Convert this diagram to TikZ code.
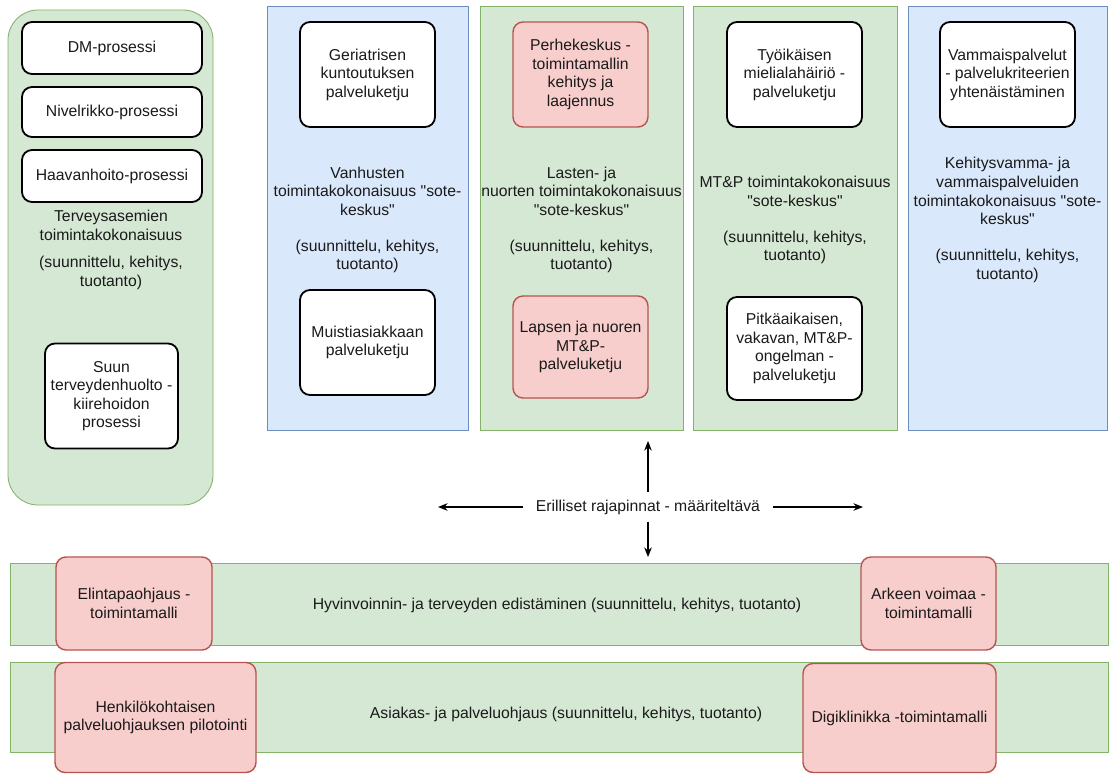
\documentclass[tikz,border=0pt]{standalone}
\usepackage{fontspec}
\setmainfont{Liberation Sans}[Ligatures=TeXOff]
\usetikzlibrary{arrows.meta,positioning}

\definecolor{grnFill}{HTML}{D5E8D4}
\definecolor{grnLine}{HTML}{82B366}
\definecolor{bluFill}{HTML}{DAE8FC}
\definecolor{bluLine}{HTML}{6C8EBF}
\definecolor{redFill}{HTML}{F8CECC}
\definecolor{redLine}{HTML}{B85450}
\definecolor{txt}{HTML}{1A1A1A}

\begin{document}
\begin{tikzpicture}[>={Stealth[length=2.4mm,width=1.9mm]}, x=0.025cm, y=-0.025cm,
    every node/.style={font=\fontsize{11.2}{13.2}\selectfont, text=txt}]
  % --- Unified styles (sizes given in pixels of the layout grid) ---
    \tikzset{
      sz/.style 2 args = {minimum width=#1*0.025cm, minimum height=#2*0.025cm},
      panelG/.style    = {draw=grnLine,fill=grnFill,line width=.6pt,inner sep=0pt},
      panelB/.style    = {draw=bluLine,fill=bluFill,line width=.6pt,inner sep=0pt},
      wbox/.style      = {draw=black,fill=white,line width=1.3pt,rounded corners=2.5mm,align=center,inner sep=1pt},
      rbox/.style      = {draw=redLine,fill=redFill,line width=1pt,rounded corners=2.5mm,align=center,inner sep=1pt},
      lab/.style       = {align=center, inner sep=1pt},
      arr/.style       = {->,line width=.8pt}
    }
    \useasboundingbox (0,0) rectangle (1109,774);

    % --- Terveysasemat (rounded green column) ---
    \node[panelG,sz={205}{495},rounded corners=7.5mm] (terveys) at (110.5,257.5) {};
    \node[wbox,sz={180}{52}] (dm)    at (112,48)  {DM-prosessi};
    \node[wbox,sz={180}{50}] (nivel) at (112,112) {Nivelrikko-prosessi};
    \node[wbox,sz={180}{52}] (haava) at (112,176) {Haavanhoito-prosessi};
    \node[lab] (terveysTxt) at (111,250)
      {Terveysasemien\\toimintakokonaisuus\\[6.5pt](suunnittelu, kehitys,\\tuotanto)};
    \node[wbox,sz={133}{105}] (suun) at (111.5,396)
      {Suun\\terveydenhuolto -\\kiirehoidon\\prosessi};

    % --- Vanhusten sote-keskus ---
    \node[panelB,sz={201}{424}] (vanhus) at (367.5,218) {};
    \node[wbox,sz={135}{105}] (geria) at (367.5,74.5)
      {Geriatrisen\\kuntoutuksen\\palveluketju};
    \node[lab] (vanhusTxt) at (367.5,220)
      {Vanhusten\\toimintakokonaisuus "sote-\\keskus"\\[12.4pt](suunnittelu, kehitys,\\tuotanto)};
    \node[wbox,sz={135}{105}] (muisti) at (367.5,342.5)
      {Muistiasiakkaan\\palveluketju};

    % --- Lasten ja nuorten sote-keskus ---
    \node[panelG,sz={203}{424}] (lapset) at (581.5,218) {};
    \node[rbox,sz={135}{105}] (perhe) at (580.5,74.5)
      {Perhekeskus -\\toimintamallin\\kehitys ja\\laajennus};
    \node[lab] (lapsetTxt) at (581.5,220)
      {Lasten- ja\\nuorten toimintakokonaisuus\\"sote-keskus"\\[12.4pt](suunnittelu, kehitys,\\tuotanto)};
    \node[rbox,sz={135}{102}] (lapsen) at (580.5,347)
      {Lapsen ja nuoren\\MT\&P-\\palveluketju};

    % --- MT&P sote-keskus ---
    \node[panelG,sz={204}{424}] (mtp) at (795,218) {};
    \node[wbox,sz={135}{105}] (tyo) at (794.5,74.5)
      {Työikäisen\\mielialahäiriö -\\palveluketju};
    \node[lab] (mtpTxt) at (795,220)
      {MT\&P toimintakokonaisuus\\"sote-keskus"\\[12.4pt](suunnittelu, kehitys,\\tuotanto)};
    \node[wbox,sz={135}{103}] (pitka) at (794.5,348.5)
      {Pitkäaikaisen,\\vakavan, MT\&P-\\ongelman -\\palveluketju};

    % --- Kehitysvamma- ja vammaispalvelut ---
    \node[panelB,sz={199}{424}] (vamma) at (1007.5,218) {};
    \node[wbox,sz={135}{105}] (vammais) at (1007.5,74.5)
      {Vammaispalvelut\\- palvelukriteerien\\yhtenäistäminen};
    \node[lab] (vammaTxt) at (1007.5,220)
      {Kehitysvamma- ja\\vammaispalveluiden\\toimintakokonaisuus "sote-\\keskus"\\[12.4pt](suunnittelu, kehitys,\\tuotanto)};

    % --- Rajapinnat: arrows out of the centre label ---
    \node[inner xsep=13*0.025cm, inner ysep=7*0.025cm] (raja) at (648,507)
      {Erilliset rajapinnat - määriteltävä};
    \coordinate (tipUp) at (648,441);
    \coordinate (tipDn) at (648,557);
    \coordinate (tipL)  at (438,507);
    \coordinate (tipR)  at (863,507);
    \draw[arr] (raja.north) -- (tipUp);
    \draw[arr] (raja.south) -- (tipDn);
    \draw[arr] (raja.west)  -- (tipL);
    \draw[arr] (raja.east)  -- (tipR);

    % --- Horizontal bands ---
    \node[panelG,sz={1098}{82}] (hyvin) at (559,604) {};
    \node[lab] (hyvinTxt) at (557,605)
      {Hyvinvoinnin- ja terveyden edistäminen (suunnittelu, kehitys, tuotanto)};
    \node[rbox,sz={156}{93}] (elinta) at (134,603.5) {Elintapaohjaus -\\toimintamalli};
    \node[rbox,sz={135}{93}] (arkeen) at (928.5,603.5) {Arkeen voimaa -\\toimintamalli};

    \node[panelG,sz={1098}{90}] (asiakas) at (559,707) {};
    \node[lab] (asiakasTxt) at (566,714)
      {Asiakas- ja palveluohjaus (suunnittelu, kehitys, tuotanto)};
    \node[rbox,sz={201}{110}] (henk) at (155.5,717.5)
      {Henkilökohtaisen\\palveluohjauksen pilotointi};
    \node[rbox,sz={193}{109}] (digi) at (899.5,718) {Digiklinikka -toimintamalli};

\end{tikzpicture}
\end{document}
